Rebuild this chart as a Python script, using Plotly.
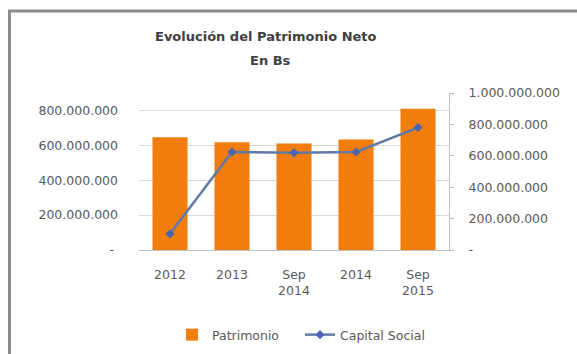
import plotly.graph_objects as go

# Series
categories = ["2012", "2013", "Sep<br>2014", "2014", "Sep<br>2015"]
patrimonio = [646_000_000, 617_000_000, 611_000_000, 634_000_000, 810_000_000]
capital_social = [103_000_000, 624_000_000, 620_000_000, 624_000_000, 780_000_000]

left_ticks = [0, 200_000_000, 400_000_000, 600_000_000, 800_000_000]
right_ticks = [0, 200_000_000, 400_000_000, 600_000_000, 800_000_000, 1_000_000_000]

W, H = 577, 354
L, R, T, B = 139, 449, 93, 250  # plot area in pixels


def fmt(v, pad):
    if v == 0:
        return "-" + "\u00a0" * pad
    return f"{v:,}".replace(",", ".")


def px(x):
    return (x - L) / (R - L)


def py(y):
    return (B - y) / (B - T)


FONT = "DejaVu Sans"
ORANGE = "#F07D0C"
LINE = "#6179A6"

fig = go.Figure()
fig.add_trace(go.Bar(
    x=categories, y=patrimonio, name="Patrimonio",
    marker=dict(color=ORANGE, line=dict(width=0)),
    yaxis="y",
))
fig.add_trace(go.Scatter(
    x=categories, y=capital_social, name="Capital Social",
    mode="lines+markers",
    line=dict(color=LINE, width=2.5),
    marker=dict(symbol="diamond", size=7, color="#4A64B0"),
    yaxis="y2",
))

fig.update_layout(
    width=W, height=H,
    margin=dict(l=L, r=W - R, t=T, b=H - B, pad=0, autoexpand=False),
    paper_bgcolor="white", plot_bgcolor="white",
    font=dict(family=FONT, size=12, color="#595959"),
    bargap=0.435,
    showlegend=True,
    legend=dict(
        orientation="h", x=px(172), xanchor="left", y=py(335), yanchor="middle",
        font=dict(size=12.5, color="#595959"), itemwidth=30, entrywidth=83,
        bgcolor="rgba(0,0,0,0)", traceorder="normal",
    ),
    xaxis=dict(
        type="category", showgrid=False, showline=True, linecolor="#BFBFBF",
        linewidth=1, ticks="", tickfont=dict(size=12.5, color="#595959"),
        ticklabelstandoff=13, fixedrange=True, automargin=False,
    ),
    yaxis=dict(
        range=[0, 900_000_000], tickvals=left_ticks,
        ticktext=[fmt(v, 1) for v in left_ticks],
        showgrid=True, gridcolor="#D9D9D9", gridwidth=1,
        showline=False, zeroline=False, ticks="", automargin=False,
        tickfont=dict(size=12.5, color="#595959"), ticklabelstandoff=20,
    ),
    yaxis2=dict(
        range=[0, 1_000_000_000], tickvals=right_ticks,
        ticktext=[fmt(v, 0) for v in right_ticks],
        overlaying="y", side="right", showgrid=False, zeroline=False,
        showline=True, linecolor="#BFBFBF", linewidth=1, automargin=False,
        ticks="outside", ticklen=4, tickcolor="#BFBFBF",
        tickfont=dict(size=12.5, color="#595959"), ticklabelstandoff=12,
    ),
    annotations=[
        dict(text="<b>Evolución del Patrimonio Neto</b>", xref="paper", yref="paper",
             x=px(266), y=py(36), xanchor="center", yanchor="middle", showarrow=False,
             font=dict(family=FONT, size=13, color="#404040")),
        dict(text="<b>En Bs</b>", xref="paper", yref="paper",
             x=px(270), y=py(60), xanchor="center", yanchor="middle", showarrow=False,
             font=dict(family=FONT, size=13, color="#404040")),
    ],
    shapes=[
        dict(type="line", xref="paper", yref="paper",
             x0=px(9.5), y0=py(H + 2), x1=px(9.5), y1=py(11),
             line=dict(color="#8C8C8C", width=3)),
        dict(type="line", xref="paper", yref="paper",
             x0=px(8), y0=py(11), x1=px(W + 2), y1=py(11),
             line=dict(color="#8C8C8C", width=3)),
    ],
)

fig.write_html("out.html")
